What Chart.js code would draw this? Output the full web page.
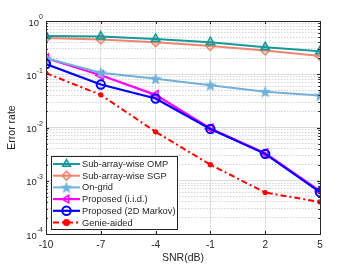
<!DOCTYPE html>
<html>
<head>
<meta charset="utf-8">
<script src="https://cdn.jsdelivr.net/npm/chart.js@4/dist/chart.umd.min.js"></script>
<style>
html,body{margin:0;padding:0;background:#fff;}
#wrap{width:354px;height:266px;position:relative;}
</style>
</head>
<body>
<div id="wrap"><canvas id="c" width="354" height="266"></canvas></div>
<script>
const snr = [-10, -7, -4, -1, 2, 5];
const xTicks = [-10, -7, -4, -1, 2, 5];
const yDecades = [-4, -3, -2, -1, 0];
const labels = ['Sub-array-wise OMP', 'Sub-array-wise SGP', 'On-grid', 'Proposed (i.i.d.)', 'Proposed (2D Markov)', 'Genie-aided'];
const omp = [0.52, 0.51, 0.46, 0.40, 0.32, 0.27];
const sgp = [0.48, 0.45, 0.40, 0.34, 0.28, 0.22];
const ongrid = [0.20, 0.107, 0.082, 0.062, 0.047, 0.040];
const iid = [0.20, 0.096, 0.041, 0.0096, 0.0033, 0.00064];
const markov = [0.156, 0.064, 0.035, 0.0094, 0.0032, 0.00061];
const genie = [0.105, 0.041, 0.0083, 0.0020, 0.00060, 0.00040];

const FONT = '"Liberation Sans", Arial, Helvetica, sans-serif';

function starCanvas(color, size) {
  const c = document.createElement('canvas');
  c.width = size; c.height = size;
  const g = c.getContext('2d');
  const cx = size / 2, cy = size / 2 + 0.5, R = size / 2 - 0.5, r = R * 0.42;
  g.beginPath();
  for (let i = 0; i < 10; i++) {
    const a = -Math.PI / 2 + i * Math.PI / 5;
    const rr = i % 2 === 0 ? R : r;
    g.lineTo(cx + rr * Math.cos(a), cy + rr * Math.sin(a));
  }
  g.closePath();
  g.fillStyle = color;
  g.fill();
  return c;
}
const starImg = starCanvas('#72b0da', 14);

function pts(arr) { return snr.map((x, i) => ({x: x, y: arr[i]})); }

const datasets = [
  {label: labels[0], data: pts(omp), borderColor: '#15999a', backgroundColor: 'rgba(21,153,154,0.25)', borderWidth: 2, pointStyle: 'triangle', pointRadius: 5, pointBorderWidth: 1.5, order: 1},
  {label: labels[1], data: pts(sgp), borderColor: '#f0846f', backgroundColor: 'rgba(240,132,111,0.2)', borderWidth: 2, pointStyle: 'rectRot', pointRadius: 4.5, pointBorderWidth: 1.5, order: 1},
  {label: labels[2], data: pts(ongrid), borderColor: '#72b0da', backgroundColor: '#72b0da', borderWidth: 2, pointStyle: starImg, pointRadius: 7, order: 1},
  {label: labels[3], data: pts(iid), borderColor: '#ff00ff', backgroundColor: 'rgba(255,0,255,0.15)', borderWidth: 2.2, pointStyle: 'triangle', pointRotation: -90, pointRadius: 5, pointBorderWidth: 1.5, order: 1},
  {label: labels[4], data: pts(markov), borderColor: '#0000ff', backgroundColor: 'rgba(0,0,255,0)', borderWidth: 2.2, pointStyle: 'circle', pointRadius: 4.2, pointBorderWidth: 2, order: 0},
  {label: labels[5], data: pts(genie), borderColor: '#ff0000', backgroundColor: '#ff0000', borderWidth: 2, borderDash: [6, 3, 2, 3], pointStyle: 'circle', pointRadius: 2.6, pointBorderWidth: 0, order: 0}
];

function isMajor(v) {
  const l = Math.log10(v);
  return Math.abs(l - Math.round(l)) < 1e-6;
}

const boxPlugin = {
  id: 'boxPlugin',
  afterDatasetsDraw(chart) {
    const ctx = chart.ctx;
    const a = chart.chartArea;
    const xs = chart.scales.x, ys = chart.scales.y;
    ctx.save();
    ctx.strokeStyle = '#262626';
    ctx.lineWidth = 1;
    ctx.beginPath();
    xs.ticks.forEach(t => {
      const px = Math.round(xs.getPixelForValue(t.value)) + 0.5;
      ctx.moveTo(px, a.bottom); ctx.lineTo(px, a.bottom - 3);
      ctx.moveTo(px, a.top); ctx.lineTo(px, a.top + 3);
    });
    ys.ticks.forEach(t => {
      const py = Math.round(ys.getPixelForValue(t.value)) + 0.5;
      const len = isMajor(t.value) ? 3 : 1.8;
      ctx.moveTo(a.left, py); ctx.lineTo(a.left + len, py);
      ctx.moveTo(a.right, py); ctx.lineTo(a.right - len, py);
    });
    ctx.stroke();
    ctx.strokeRect(Math.round(a.left) + 0.5, Math.round(a.top) + 0.5, Math.round(a.right - a.left), Math.round(a.bottom - a.top));
    ctx.fillStyle = '#262626';
    ys.ticks.forEach(t => {
      if (!isMajor(t.value)) return;
      const e = Math.round(Math.log10(t.value));
      const py = ys.getPixelForValue(t.value);
      ctx.font = '9.5px ' + FONT;
      const wb = ctx.measureText('10').width;
      ctx.font = '7px ' + FONT;
      const sup = String(e);
      const ws = ctx.measureText(sup).width;
      const right = a.left - 3;
      ctx.textBaseline = 'middle';
      ctx.textAlign = 'left';
      ctx.font = '9.5px ' + FONT;
      ctx.fillText('10', right - ws - wb, py + 2);
      ctx.font = '7px ' + FONT;
      ctx.fillText(sup, right - ws, py - 3.5);
    });
    ctx.restore();
  },
  afterDraw(chart) {
    const ctx = chart.ctx;
    const L = 51, T = 156, W = 126, H = 73;
    ctx.save();
    ctx.fillStyle = '#ffffff';
    ctx.fillRect(L, T, W, H);
    ctx.strokeStyle = '#262626';
    ctx.lineWidth = 1;
    ctx.strokeRect(L + 0.5, T + 0.5, W, H);
    const rowH = 11.7;
    chart.data.datasets.forEach((ds, i) => {
      const cy = T + 8 + rowH * i;
      ctx.save();
      ctx.strokeStyle = ds.borderColor;
      ctx.lineWidth = ds.borderWidth;
      ctx.setLineDash(ds.borderDash || []);
      ctx.beginPath();
      ctx.moveTo(L + 2, cy); ctx.lineTo(L + 29, cy);
      ctx.stroke();
      ctx.setLineDash([]);
      ctx.fillStyle = ds.backgroundColor;
      ctx.lineWidth = ds.pointBorderWidth !== undefined ? ds.pointBorderWidth : 1;
      Chart.helpers.drawPoint(ctx, {pointStyle: ds.pointStyle, rotation: ds.pointRotation || 0, radius: Math.min(ds.pointRadius, 4.5), borderWidth: ctx.lineWidth}, L + 15.5, cy);
      ctx.restore();
      ctx.fillStyle = '#262626';
      ctx.font = '9.3px ' + FONT;
      ctx.textBaseline = 'middle';
      ctx.textAlign = 'left';
      ctx.fillText(ds.label, L + 31, cy + 0.5);
    });
    ctx.restore();
  }
};

new Chart(document.getElementById('c'), {
  type: 'line',
  data: {datasets: datasets},
  options: {
    responsive: false,
    animation: false,
    devicePixelRatio: 1,
    layout: {padding: {top: 21, right: 34, left: 0, bottom: 0}},
    plugins: {legend: {display: false}, tooltip: {enabled: false}},
    elements: {line: {tension: 0}},
    scales: {
      x: {
        type: 'linear', min: -10, max: 5,
        afterBuildTicks: s => { s.ticks = xTicks.map(v => ({value: v})); },
        afterFit: s => { s.height = 32; },
        ticks: {color: '#262626', font: {size: 10, family: FONT}, padding: 5, callback: v => String(v)},
        grid: {color: '#e0e0e0', lineWidth: 1, drawTicks: false},
        border: {color: '#262626', width: 1},
        title: {display: true, text: 'SNR(dB)', color: '#262626', font: {size: 10.5, family: FONT}, padding: {top: 0, bottom: 2}}
      },
      y: {
        type: 'logarithmic', min: 1e-4, max: 1,
        afterBuildTicks: s => {
          const t = [];
          yDecades.forEach(e => {
            for (let m = 1; m <= 9; m++) {
              const v = m * Math.pow(10, e);
              if (v <= 1.0000001) t.push({value: v, major: m === 1});
            }
          });
          s.ticks = t;
        },
        afterFit: s => { s.width = 46; },
        ticks: {display: false},
        grid: {
          drawTicks: false,
          color: c => (c.tick && isMajor(c.tick.value)) ? '#dcdcdc' : '#d4d4d4',
          lineWidth: 1
        },
        border: {
          color: '#262626', width: 1,
          dash: c => (c.tick && !isMajor(c.tick.value)) ? [1.5, 1.5] : []
        },
        title: {display: true, text: 'Error rate', color: '#262626', font: {size: 10.5, family: FONT}, padding: {top: 6, bottom: 0}}
      }
    }
  },
  plugins: [boxPlugin]
});
</script>
</body>
</html>
